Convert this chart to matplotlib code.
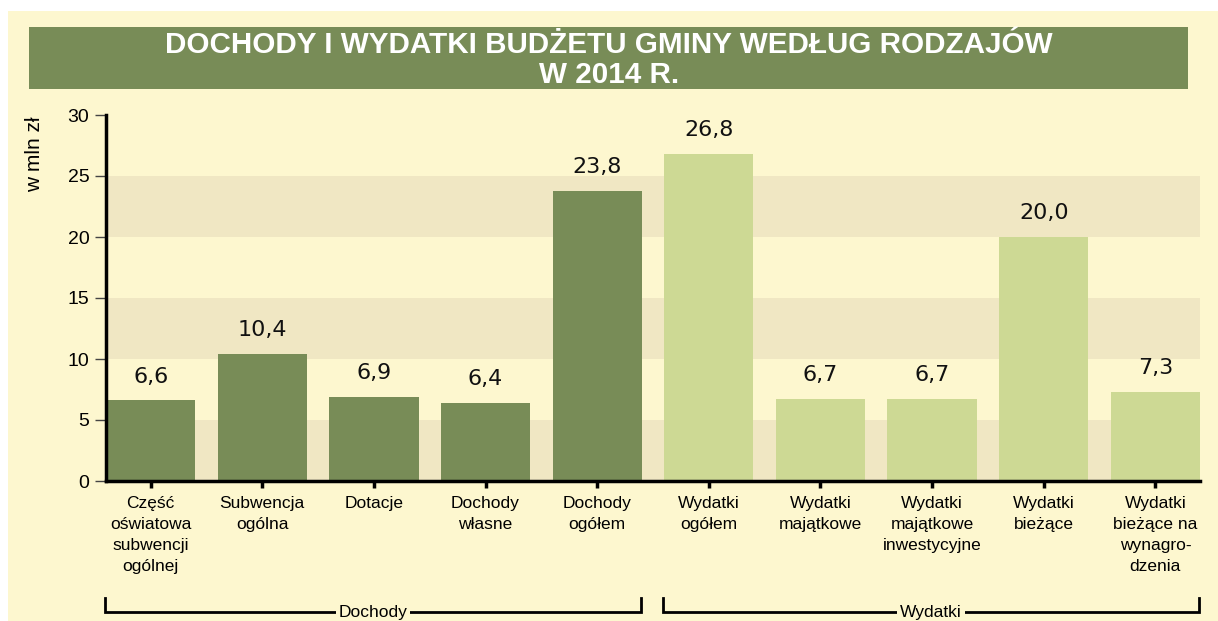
import matplotlib.pyplot as plt
import matplotlib.transforms as mtransforms
from matplotlib.patches import Rectangle

categories = [
    "Część\noświatowa\nsubwencji\nogólnej",
    "Subwencja\nogólna",
    "Dotacje",
    "Dochody\nwłasne",
    "Dochody\nogółem",
    "Wydatki\nogółem",
    "Wydatki\nmajątkowe",
    "Wydatki\nmajątkowe\ninwestycyjne",
    "Wydatki\nbieżące",
    "Wydatki\nbieżące na\nwynagro-\ndzenia",
]
values = [6.6, 10.4, 6.9, 6.4, 23.8, 26.8, 6.7, 6.7, 20.0, 7.3]
groups = ["Dochody"] * 5 + ["Wydatki"] * 5
group_names = ["Dochody", "Wydatki"]
yticks = [0, 5, 10, 15, 20, 25, 30]

dark_green = "#788c57"
light_green = "#cdd994"
cream = "#fdf7cf"
band = "#f0e7c3"
colors = {"Dochody": dark_green, "Wydatki": light_green}

W, H = 1218, 621
fig = plt.figure(figsize=(W / 100, H / 100), dpi=100, facecolor="white")

# cream panel + title banner
fig.patches.append(Rectangle((8 / W, 0), 1, (H - 11) / H, transform=fig.transFigure,
                             facecolor=cream, edgecolor="none", zorder=-10))
fig.patches.append(Rectangle((29 / W, (H - 89) / H), (1188 - 29) / W, 62 / H,
                             transform=fig.transFigure, facecolor=dark_green,
                             edgecolor="none", zorder=-5))
title_font = dict(family="Liberation Sans", weight="bold", color="white", size=21.3,
                  ha="center", va="center")
fig.text(0.5, (H - 45) / H, "DOCHODY I WYDATKI BUDŻETU GMINY WEDŁUG RODZAJÓW", **title_font)
fig.text(0.5, (H - 75) / H, "W 2014 R.", **title_font)

ax = fig.add_axes([106 / W, (H - 481) / H, (1200 - 106) / W, (481 - 115) / H])
ax.set_facecolor("none")

x = list(range(len(values)))
for lo in range(0, 30, 10):
    ax.axhspan(lo, lo + 5, color=band, zorder=0, lw=0)

ax.bar(x, values, width=0.8, color=[colors[g] for g in groups], zorder=2)
for xi, v in zip(x, values):
    ax.annotate(f"{v:.1f}".replace(".", ","), (xi, v), xytext=(0, 10),
                textcoords="offset points", ha="center", va="bottom",
                fontsize=16, family="DejaVu Sans", color="#111111")

ax.set_xlim(-0.4, len(values) - 0.6)
ax.set_ylim(0, 30)
ax.set_yticks(yticks)
ax.set_xticks(x)
ax.set_xticklabels(categories, family="Liberation Sans", fontsize=12.5, linespacing=1.5,
                   va="top")
ax.tick_params(axis="y", length=8, width=1, color="#444444", labelsize=14, pad=4)
ax.tick_params(axis="x", length=5, width=2.5, color="black", pad=6)
for lab in ax.get_yticklabels():
    lab.set_family("Liberation Sans")
for s in ["top", "right"]:
    ax.spines[s].set_visible(False)
for s in ["left", "bottom"]:
    ax.spines[s].set_linewidth(2.5)

fig.text(35 / W, (H - 116) / H, "w mln zł", rotation=90, ha="center", va="top",
         family="Liberation Sans", fontsize=15)

# group brackets
trans = mtransforms.blended_transform_factory(ax.transData, fig.transFigure)
y_line = 9 / H
y_top = 23 / H
for i, name in enumerate(group_names):
    idx = [k for k, g in enumerate(groups) if g == name]
    x0, x1 = idx[0] - 0.41, idx[-1] + 0.39
    ax.plot([x0, x0, x1, x1], [y_top, y_line, y_line, y_top], transform=trans,
            color="black", lw=2, clip_on=False, solid_joinstyle="miter")
    ax.text((x0 + x1) / 2, y_line, name, transform=trans, ha="center", va="center",
            family="Liberation Sans", fontsize=12.5,
            bbox=dict(facecolor=cream, edgecolor="none", pad=2), clip_on=False)

fig.savefig("out.png", dpi=100, facecolor=fig.get_facecolor())
